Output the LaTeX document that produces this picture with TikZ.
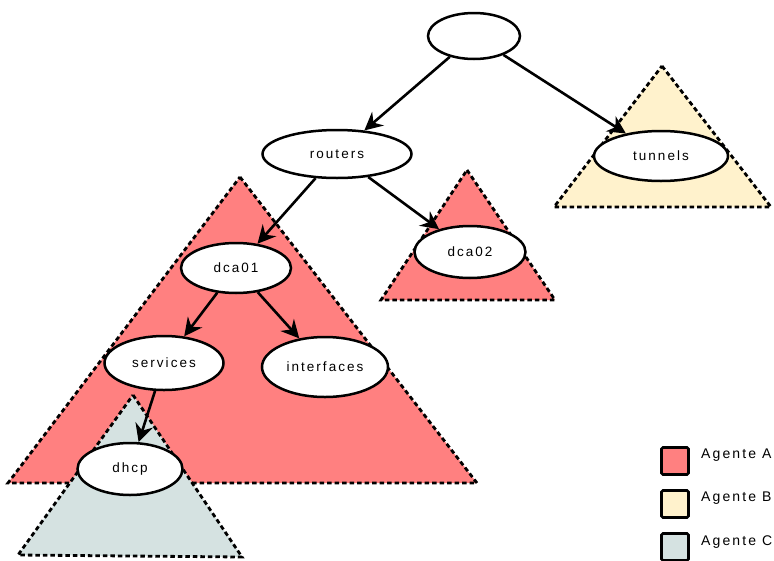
\documentclass[tikz,border=0pt]{standalone}
\usepackage{fontspec}
\setmainfont{Liberation Sans}[LetterSpace=15]
\usetikzlibrary{shapes.geometric,arrows.meta}
\definecolor{agenteA}{RGB}{255,128,128}
\definecolor{agenteB}{RGB}{255,242,204}
\definecolor{agenteC}{RGB}{213,226,225}
\tikzset{
  tnode/.style={ellipse, draw=black, line width=2.5pt, fill=white, inner sep=0pt,
    font=\fontsize{13.5pt}{15pt}\selectfont},
  agent/.style={line width=2.8pt, dash pattern=on 4.5pt off 3pt, draw=black},
  link/.style={line width=2.6pt, -{Stealth[length=18pt, width=18pt, inset=6pt]}},
  legbox/.style={draw=black, line width=2.8pt, rounded corners=1.5pt, minimum size=27pt, inner sep=0pt},
  legtext/.style={anchor=west, inner sep=0pt, font=\fontsize{14pt}{16pt}\selectfont}
}
\begin{document}
\begin{tikzpicture}[x=1pt, y=-1pt]
\useasboundingbox (0,0) rectangle (774,560);

% agent regions
\fill[agenteA] (240,177) -- (477,483) -- (8,483) -- cycle;
\draw[agent] (240,177) -- (477,483) -- (8,483) -- cycle;
\fill[agenteA] (467,170) -- (555,300) -- (381,300) -- cycle;
\draw[agent] (467,170) -- (555,300) -- (381,300) -- cycle;
\fill[agenteB] (662,66) -- (771,207) -- (554,207) -- cycle;
\draw[agent] (662,66) -- (771,207) -- (554,207) -- cycle;
\fill[agenteC] (133,395) -- (242,557) -- (18,555) -- cycle;
\draw[agent] (133,395) -- (242,557) -- (18,555) -- cycle;

% tree nodes
\node[tnode, minimum width=92pt, minimum height=46pt] (root) at (474,36) {};
\node[tnode, minimum width=149pt, minimum height=48pt] (routers) at (337,154) {routers};
\node[tnode, minimum width=134pt, minimum height=50pt] (tunnels) at (661,156) {tunnels};
\node[tnode, minimum width=111pt, minimum height=52pt] (dca02) at (470,252) {dca02};
\node[tnode, minimum width=110pt, minimum height=50pt] (dca01) at (236,268) {dca01};
\node[tnode, minimum width=119pt, minimum height=54pt] (services) at (164,363) {services};
\node[tnode, minimum width=126pt, minimum height=60pt] (interfaces) at (325,367) {interfaces};
\node[tnode, minimum width=105pt, minimum height=52pt] (dhcp) at (130,469) {dhcp};

% connectors
\draw[link] (root) -- (routers);
\draw[link] (root) -- (tunnels);
\draw[link] (routers) -- (dca01);
\draw[link] (routers) -- (dca02);
\draw[link] (dca01) -- (services);
\draw[link] (dca01) -- (interfaces);
\draw[link] (services) -- (dhcp);

% legend
\node[legbox, fill=agenteA] (legA) at (675,461) {};
\node[legbox, fill=agenteB] (legB) at (675,504) {};
\node[legbox, fill=agenteC] (legC) at (675,547) {};
\node[legtext] (legAt) at (701,455) {Agente A};
\node[legtext] (legBt) at (701,498) {Agente B};
\node[legtext] (legCt) at (701,542) {Agente C};
\end{tikzpicture}
\end{document}
